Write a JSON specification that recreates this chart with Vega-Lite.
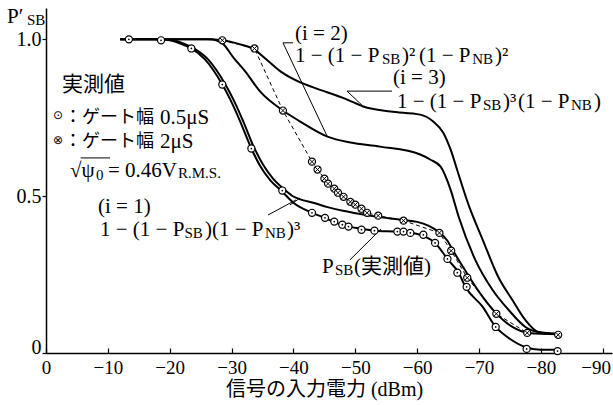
{
  "$schema": "https://vega.github.io/schema/vega-lite/v6.json",
  "width": 566,
  "height": 345,
  "autosize": {"type": "none"},
  "padding": {"left": 46, "top": 8, "right": 1, "bottom": 52},
  "background": "white",
  "config": {"view": {"stroke": null}},
  "datasets": {
    "curves": [
      {"curve":"PSB","x":-12,"y":1.0},{"curve":"PSB","x":-18.6,"y":1.0},{"curve":"PSB","x":-21.7,"y":0.987},{"curve":"PSB","x":-23.5,"y":0.971},{"curve":"PSB","x":-25.7,"y":0.936},{"curve":"PSB","x":-28.5,"y":0.856},{"curve":"PSB","x":-29.8,"y":0.808},{"curve":"PSB","x":-31.4,"y":0.738},{"curve":"PSB","x":-33.2,"y":0.652},{"curve":"PSB","x":-34.6,"y":0.597},{"curve":"PSB","x":-36.2,"y":0.552},{"curve":"PSB","x":-38.2,"y":0.514},{"curve":"PSB","x":-40.0,"y":0.479},{"curve":"PSB","x":-43.0,"y":0.447},{"curve":"PSB","x":-45.1,"y":0.431},{"curve":"PSB","x":-46.9,"y":0.415},{"curve":"PSB","x":-48.9,"y":0.403},{"curve":"PSB","x":-51.1,"y":0.396},{"curve":"PSB","x":-53.2,"y":0.39},{"curve":"PSB","x":-57.0,"y":0.387},{"curve":"PSB","x":-59.1,"y":0.383},{"curve":"PSB","x":-61.3,"y":0.371},{"curve":"PSB","x":-62.9,"y":0.351},{"curve":"PSB","x":-65.0,"y":0.297},{"curve":"PSB","x":-66.7,"y":0.256},{"curve":"PSB","x":-67.8,"y":0.211},{"curve":"PSB","x":-70.6,"y":0.147},{"curve":"PSB","x":-72.7,"y":0.083},{"curve":"PSB","x":-74.8,"y":0.048},{"curve":"PSB","x":-77.5,"y":0.019},{"curve":"PSB","x":-79.9,"y":0.01},{"curve":"PSB","x":-82.8,"y":0.01},
      {"curve":"i1","x":-12,"y":1.0},{"curve":"i1","x":-19.3,"y":1.0},{"curve":"i1","x":-22.2,"y":0.987},{"curve":"i1","x":-23.9,"y":0.971},{"curve":"i1","x":-26.2,"y":0.936},{"curve":"i1","x":-29.0,"y":0.856},{"curve":"i1","x":-30.3,"y":0.808},{"curve":"i1","x":-31.9,"y":0.738},{"curve":"i1","x":-33.7,"y":0.652},{"curve":"i1","x":-35.1,"y":0.6},{"curve":"i1","x":-36.7,"y":0.556},{"curve":"i1","x":-38.5,"y":0.522},{"curve":"i1","x":-40.0,"y":0.499},{"curve":"i1","x":-41.1,"y":0.49},{"curve":"i1","x":-43.2,"y":0.479},{"curve":"i1","x":-45.5,"y":0.465},{"curve":"i1","x":-48.7,"y":0.451},{"curve":"i1","x":-50.8,"y":0.443},{"curve":"i1","x":-53.7,"y":0.434},{"curve":"i1","x":-56.1,"y":0.428},{"curve":"i1","x":-57.8,"y":0.424},{"curve":"i1","x":-60.0,"y":0.418},{"curve":"i1","x":-61.8,"y":0.406},{"curve":"i1","x":-63.4,"y":0.387},{"curve":"i1","x":-64.9,"y":0.358},{"curve":"i1","x":-65.7,"y":0.33},{"curve":"i1","x":-67.8,"y":0.262},{"curve":"i1","x":-69.9,"y":0.198},{"curve":"i1","x":-72.7,"y":0.128},{"curve":"i1","x":-75.4,"y":0.083},{"curve":"i1","x":-78.0,"y":0.064},{"curve":"i1","x":-82.8,"y":0.06},
      {"curve":"i2","x":-12,"y":1.0},{"curve":"i2","x":-26.5,"y":1.0},{"curve":"i2","x":-28.5,"y":0.987},{"curve":"i2","x":-30.3,"y":0.942},{"curve":"i2","x":-32.2,"y":0.898},{"curve":"i2","x":-34.6,"y":0.834},{"curve":"i2","x":-38.3,"y":0.773},{"curve":"i2","x":-41.1,"y":0.738},{"curve":"i2","x":-45.5,"y":0.69},{"curve":"i2","x":-49.2,"y":0.671},{"curve":"i2","x":-54.0,"y":0.658},{"curve":"i2","x":-60.5,"y":0.633},{"curve":"i2","x":-62.1,"y":0.617},{"curve":"i2","x":-63.8,"y":0.594},{"curve":"i2","x":-65.4,"y":0.521},{"curve":"i2","x":-66.7,"y":0.435},{"curve":"i2","x":-69.4,"y":0.297},{"curve":"i2","x":-72.2,"y":0.201},{"curve":"i2","x":-74.8,"y":0.137},{"curve":"i2","x":-77.5,"y":0.083},{"curve":"i2","x":-80.3,"y":0.064},{"curve":"i2","x":-82.8,"y":0.061},
      {"curve":"i3","x":-12,"y":1.0},{"curve":"i3","x":-26,"y":1.0},{"curve":"i3","x":-28.5,"y":0.997},{"curve":"i3","x":-31.4,"y":0.984},{"curve":"i3","x":-33.5,"y":0.97},{"curve":"i3","x":-35.4,"y":0.94},{"curve":"i3","x":-37.9,"y":0.898},{"curve":"i3","x":-41.1,"y":0.863},{"curve":"i3","x":-43.2,"y":0.847},{"curve":"i3","x":-48.7,"y":0.808},{"curve":"i3","x":-51.3,"y":0.786},{"curve":"i3","x":-55.7,"y":0.77},{"curve":"i3","x":-60.5,"y":0.76},{"curve":"i3","x":-62.6,"y":0.738},{"curve":"i3","x":-64.2,"y":0.703},{"curve":"i3","x":-65.4,"y":0.649},{"curve":"i3","x":-66.7,"y":0.569},{"curve":"i3","x":-68.3,"y":0.473},{"curve":"i3","x":-70.6,"y":0.361},{"curve":"i3","x":-73.1,"y":0.243},{"curve":"i3","x":-75.4,"y":0.169},{"curve":"i3","x":-77.5,"y":0.105},{"curve":"i3","x":-79.6,"y":0.067},{"curve":"i3","x":-82.8,"y":0.061}
    ],
    "m05": [
      {"x":-13.4,"y":1.0},{"x":-18.6,"y":0.997},{"x":-23.5,"y":0.971},{"x":-28.5,"y":0.856},{"x":-33.2,"y":0.652},{"x":-38.2,"y":0.518},{"x":-43.0,"y":0.447},{"x":-45.1,"y":0.431},{"x":-46.6,"y":0.419},{"x":-47.9,"y":0.409},{"x":-48.9,"y":0.403},{"x":-51.0,"y":0.393},{"x":-53.1,"y":0.39},{"x":-56.8,"y":0.387},{"x":-57.8,"y":0.387},{"x":-58.9,"y":0.383},{"x":-61.0,"y":0.377},{"x":-62.9,"y":0.351},{"x":-64.9,"y":0.3},{"x":-66.5,"y":0.256},{"x":-68.0,"y":0.211},{"x":-72.7,"y":0.083},{"x":-77.7,"y":0.013},{"x":-82.7,"y":0.006}
    ],
    "m2": [
      {"x":-28.5,"y":0.997},{"x":-33.7,"y":0.971},{"x":-38.3,"y":0.773},{"x":-43.0,"y":0.61},{"x":-43.9,"y":0.585},{"x":-45.0,"y":0.556},{"x":-45.6,"y":0.54},{"x":-46.6,"y":0.524},{"x":-47.2,"y":0.511},{"x":-48.1,"y":0.498},{"x":-49.2,"y":0.482},{"x":-50.0,"y":0.473},{"x":-51.0,"y":0.46},{"x":-51.9,"y":0.447},{"x":-53.7,"y":0.438},{"x":-57.8,"y":0.422},{"x":-63.6,"y":0.383},{"x":-65.5,"y":0.326},{"x":-68.1,"y":0.24},{"x":-72.8,"y":0.125},{"x":-77.8,"y":0.064},{"x":-82.8,"y":0.058}
    ],
    "leaders": [
      {"x":-38.31,"y":0.989,"x2":-45.43,"y2":0.692},
      {"x":-38.31,"y":0.989,"x2":-39.93,"y2":0.989},
      {"x":-48.66,"y":0.835,"x2":-55.93,"y2":0.835},
      {"x":-48.66,"y":0.835,"x2":-51.41,"y2":0.784},
      {"x":-35.89,"y":0.44,"x2":-40.41,"y2":0.488},
      {"x":-39.44,"y":0.472,"x2":-41.06,"y2":0.494},
      {"x":-49.14,"y":0.297,"x2":-54.15,"y2":0.395},
      {"x":-5.6,"y":0.622,"x2":-10.35,"y2":0.622}
    ],
    "txt": [
      {"text":"実測値","x":-2.59,"y":0.835},
      {"text":"0.5μS","x":-18.43,"y":0.73},
      {"text":"2μS","x":-18.43,"y":0.654},
      {"text":"√ψ","x":-3.88,"y":0.561},
      {"text":"= 0.46V","x":-10.02,"y":0.561},
      {"text":"(i = 1)","x":-8.41,"y":0.446},
      {"text":"1 − (1 − P","x":-8.73,"y":0.373},
      {"text":")(1 − P","x":-25.7,"y":0.373},
      {"text":")³","x":-38.96,"y":0.373},
      {"text":"(i = 2)","x":-40.25,"y":0.998},
      {"text":"1 − (1 − P","x":-40.25,"y":0.928},
      {"text":")²","x":-57.55,"y":0.928},
      {"text":"(1 − P","x":-60.3,"y":0.928},
      {"text":")²","x":-72.6,"y":0.928},
      {"text":"(i = 3)","x":-56.09,"y":0.858},
      {"text":"1 − (1 − P","x":-56.74,"y":0.781},
      {"text":")³","x":-73.88,"y":0.781},
      {"text":"(1 − P","x":-76.3,"y":0.781},
      {"text":")","x":-88.59,"y":0.781},
      {"text":"P","x":-44.62,"y":0.255},
      {"text":"(実測値)","x":-49.79,"y":0.255},
      {"text":"P′","x":6.3,"y":1.052}
    ],
    "cjk": [
      {"text":"：ゲート幅","x":-2.91,"y":0.733},
      {"text":"：ゲート幅","x":-2.91,"y":0.657}
    ],
    "sub": [
      {"text":"0","x":-8.08,"y":0.552},
      {"text":"R.M.S.","x":-21.34,"y":0.558},
      {"text":"SB","x":-22.37,"y":0.367},
      {"text":"NB","x":-35.4,"y":0.367},
      {"text":"SB","x":-54.32,"y":0.922},
      {"text":"NB","x":-68.9,"y":0.922},
      {"text":"SB","x":-70.64,"y":0.775},
      {"text":"NB","x":-84.87,"y":0.775},
      {"text":"SB","x":-46.72,"y":0.249},
      {"text":"SB","x":3.07,"y":1.046}
    ],
    "sym": [
      {"text":"⊙","x":-1.94,"y":0.759},
      {"text":"⊗","x":-1.94,"y":0.679}
    ]
  },
  "encoding": {
    "x": {
      "field": "x", "type": "quantitative",
      "scale": {"domain": [-91.5, 0], "reverse": true, "nice": false, "zero": false},
      "axis": {
        "title": "信号の入力電力 (dBm)",
        "values": [0, -10, -20, -30, -40, -50, -60, -70, -80, -90],
        "labelExpr": "datum.value == 0 ? '0' : '−' + (-datum.value)",
        "labelFont": "'Liberation Serif', 'Times New Roman', serif", "labelFontSize": 19, "labelColor": "black",
        "labelFlush": false, "labelOverlap": false,
        "labelOffset": {"condition": {"test": "datum.value == -90", "value": -7}, "value": 0},
        "tickSize": -5, "tickColor": "black", "tickWidth": 1.2, "labelPadding": 10,
        "domainColor": "black", "domainWidth": 1.5, "grid": false,
        "titleFont": "'Liberation Serif', 'Noto Sans CJK JP'", "titleFontSize": 20,
        "titleFontWeight": "normal", "titleColor": "black",
        "titleX": 278, "titleY": 36, "titleBaseline": "middle", "titleAlign": "center"
      }
    },
    "y": {
      "field": "y", "type": "quantitative",
      "scale": {"domain": [0, 1.1], "nice": false},
      "axis": {
        "title": null,
        "values": [0, 0.5, 1.0],
        "labelExpr": "datum.value == 0 ? '0' : format(datum.value, '.1f')",
        "labelFont": "'Liberation Serif', 'Times New Roman', serif", "labelFontSize": 20, "labelColor": "black",
        "labelFlush": false,
        "labelBaseline": {"condition": {"test": "datum.value == 0", "value": "alphabetic"}, "value": "middle"},
        "tickSize": 4, "tickColor": "black", "tickWidth": 1.2, "labelPadding": 1,
        "domainColor": "black", "domainWidth": 1.5, "grid": false
      }
    }
  },
  "layer": [
    {
      "data": {"name": "curves"},
      "mark": {"type": "line", "interpolate": "monotone", "stroke": "black", "strokeWidth": 2},
      "encoding": {"detail": {"field": "curve"}, "order": {"field": "x", "sort": "descending"}}
    },
    {
      "data": {"name": "m2"},
      "mark": {"type": "line", "stroke": "black", "strokeWidth": 1, "strokeDash": [4, 3]},
      "encoding": {"order": {"field": "x", "sort": "descending"}}
    },
    {
      "data": {"name": "leaders"},
      "mark": {"type": "rule", "stroke": "black", "strokeWidth": 1},
      "encoding": {"x2": {"field": "x2"}, "y2": {"field": "y2"}}
    },
    {
      "data": {"name": "m05"},
      "mark": {"type": "point", "shape": "circle", "filled": true, "fill": "white", "stroke": "black", "strokeWidth": 1.2, "size": 50, "opacity": 1}
    },
    {
      "data": {"name": "m05"},
      "mark": {"type": "point", "shape": "circle", "filled": true, "fill": "black", "size": 3, "opacity": 1}
    },
    {
      "data": {"name": "m2"},
      "mark": {"type": "point", "shape": "circle", "filled": true, "fill": "white", "stroke": "black", "strokeWidth": 1.2, "size": 50, "opacity": 1}
    },
    {
      "data": {"name": "m2"},
      "mark": {"type": "point", "shape": "M-0.7,-0.7L0.7,0.7M-0.7,0.7L0.7,-0.7", "filled": false, "stroke": "black", "strokeWidth": 1, "size": 50, "opacity": 1}
    },
    {
      "data": {"name": "txt"},
      "mark": {"type": "text", "align": "left", "baseline": "alphabetic", "font": "'Liberation Serif', 'Times New Roman', 'Noto Sans CJK JP', serif", "fontSize": 21, "color": "black"},
      "encoding": {"text": {"field": "text"}}
    },
    {
      "data": {"name": "cjk"},
      "mark": {"type": "text", "align": "left", "baseline": "alphabetic", "font": "'Noto Sans CJK JP'", "fontSize": 18, "color": "black"},
      "encoding": {"text": {"field": "text"}}
    },
    {
      "data": {"name": "sub"},
      "mark": {"type": "text", "align": "left", "baseline": "alphabetic", "font": "'Liberation Serif', 'Times New Roman', serif", "fontSize": 15, "color": "black"},
      "encoding": {"text": {"field": "text"}}
    },
    {
      "data": {"name": "sym"},
      "mark": {"type": "text", "align": "center", "baseline": "middle", "font": "DejaVu Sans", "fontSize": 12, "color": "black"},
      "encoding": {"text": {"field": "text"}}
    }
  ]
}
